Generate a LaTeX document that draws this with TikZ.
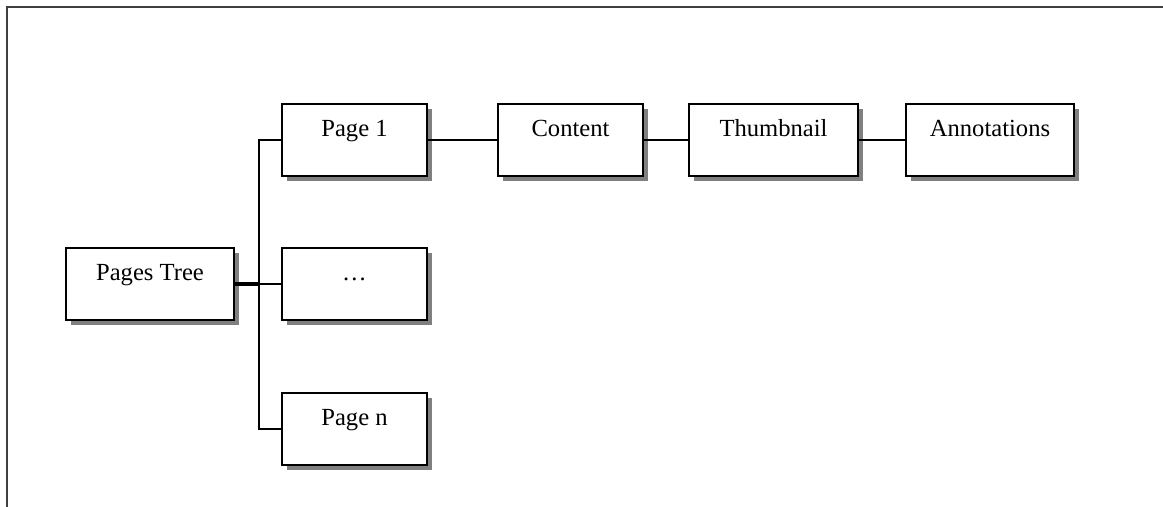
\documentclass[tikz,border=0pt]{standalone}
\usepackage{fontspec}
\setmainfont{Liberation Serif}
\usetikzlibrary{shadows}

\begin{document}
\begin{tikzpicture}[x=0.5pt,y=-0.5pt,
        obj/.style={draw,line width=1pt,fill=white,anchor=north west,
            inner xsep=0pt,inner ysep=0pt,minimum width=#1*0.5pt,minimum height=36pt,
            text height=16.5pt,text depth=19.5pt,font=\fontsize{12.3}{14}\selectfont,
            drop shadow={shadow xshift=2.7pt,shadow yshift=-2.7pt,fill=black!50,opacity=1}},
        obj/.default=145,
        link/.style={line width=0.8pt}]
        \useasboundingbox (0,0) rectangle (1163,507);
        %% frame
        \draw[black!75,line width=1pt] (7,507) -- (7,7) -- (1163,7);
        %% pages tree and its pages
        \node[obj=168] (tree) at (65,247) {Pages Tree};
        \node[obj] (page1) at (281,103) {Page 1};
        \node[obj] (dots) at (281,247) {\dots};
        \node[obj] (pagen) at (281,392) {Page n};
        %% objects of one page
        \node[obj] (content) at (497,103) {Content};
        \node[obj=169] (thumb) at (688,103) {Thumbnail};
        \node[obj=168] (annots) at (905,103) {Annotations};
        %% links
        \draw[line width=1.6pt] (tree.east) -- ++(24,0) coordinate (fork);
        \draw[link] (fork) |- (page1.west);
        \draw[link] (fork) |- (pagen.west);
        \draw[link] (fork) -- (dots.west);
        \draw[link] (page1.east) -- (content.west);
        \draw[link] (content.east) -- (thumb.west);
        \draw[link] (thumb.east) -- (annots.west);
    \end{tikzpicture}
\end{document}
